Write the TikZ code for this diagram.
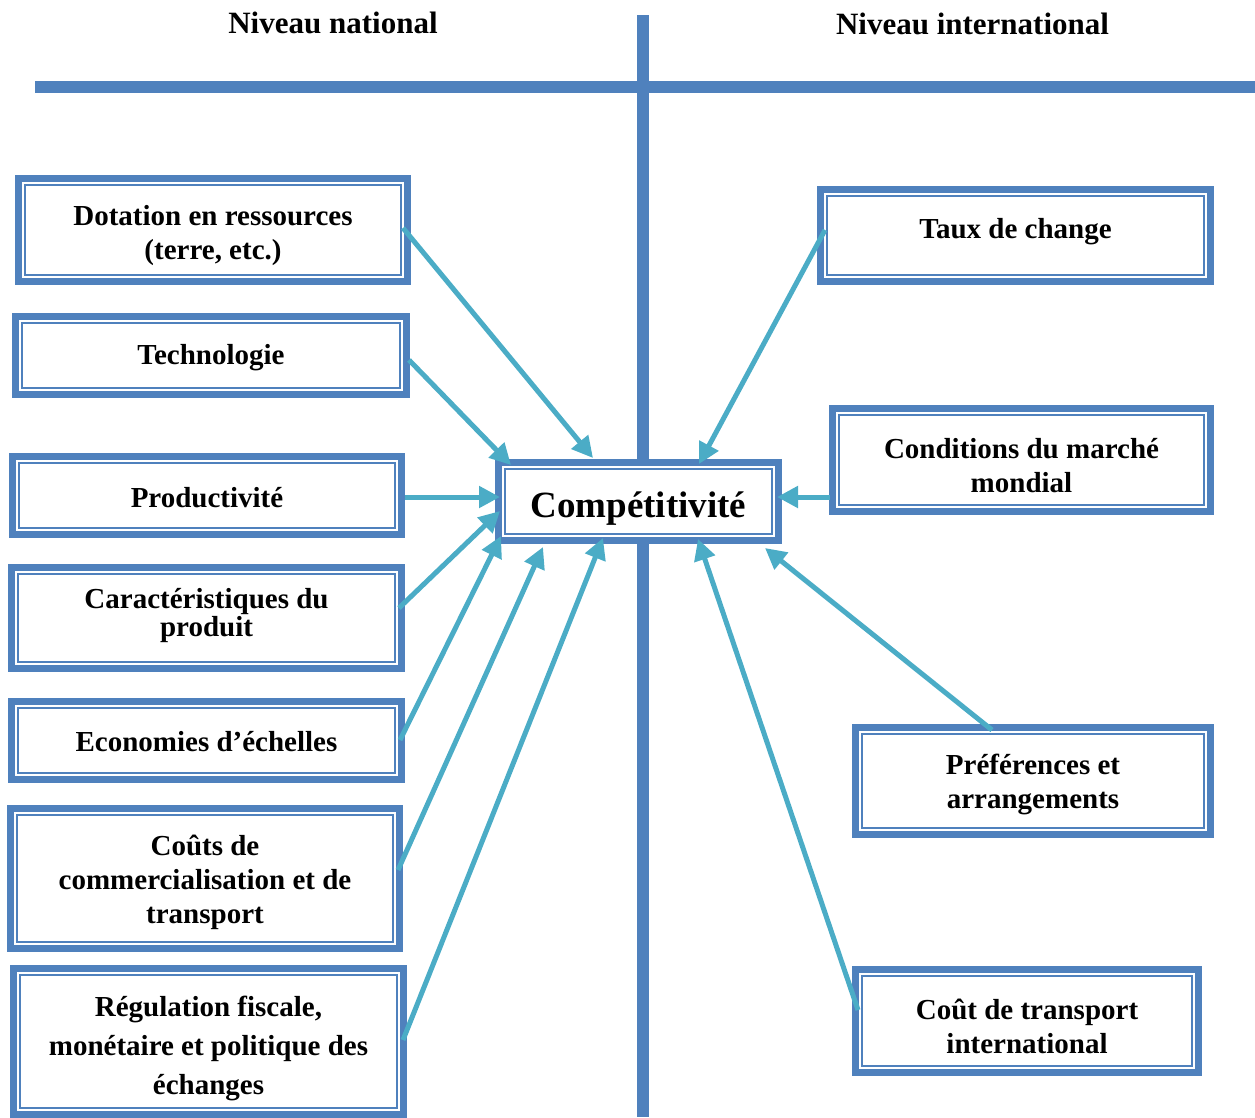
\documentclass[tikz,border=0pt]{standalone}
\usepackage{fontspec}
\setmainfont{Liberation Serif}
\usetikzlibrary{calc,arrows.meta}
\definecolor{bblue}{HTML}{4F81BD}
\definecolor{aqua}{HTML}{4BACC6}
\tikzset{
 outerbox/.style={draw=bblue, line width=7pt, fill=white, inner sep=0pt, outer sep=3.5pt},
 innerline/.style={draw=bblue, line width=1.6pt},
 boxtext/.style={font=\bfseries\fontsize{29}{34}\selectfont, align=center, inner sep=0pt, yshift=-3.5pt},
 arr/.style={draw=aqua, line width=5pt, -{Triangle[length=21pt,width=21pt]}},
 axisline/.style={draw=bblue, line width=12pt},
 titletext/.style={font=\bfseries\fontsize{31}{36}\selectfont, inner sep=0pt, yshift=-1pt}
}
\newcommand{\fbx}[5]{%
 \node[outerbox, minimum width={#4pt-7pt}, minimum height={#5pt-7pt}] (#1) at (#2,#3) {};
 \draw[innerline] ($(#1.north west)+(10,10)$) rectangle ($(#1.south east)+(-10,-10)$);
}
\begin{document}
\begin{tikzpicture}[x=1pt,y=-1pt]
\useasboundingbox (0,0) rectangle (1255,1117);
% axes
\coordinate (hl) at (35,87);
\coordinate (hr) at (1255,87);
\coordinate (vt) at (643,15);
\coordinate (vb) at (643,1117);
\draw[axisline] (hl) -- (hr);
\draw[axisline] (vt) -- (vb);
\node[titletext] (tn) at (333,22) {Niveau national};
\node[titletext] (ti) at (972.5,23) {Niveau international};
% left boxes
\fbx{dot}{213}{230}{396}{110}
\node[boxtext] (dotT) at (213,232) {Dotation en ressources\\(terre, etc.)};
\fbx{tech}{211}{355.5}{398}{85}
\node[boxtext] (techT) at (211,354) {Technologie};
\fbx{prod}{207}{495.5}{396}{85}
\node[boxtext] (prodT) at (207,494) {Productivité};
\fbx{car}{206.5}{618}{397}{108}
\node[boxtext, font=\bfseries\fontsize{29}{28}\selectfont] (carT) at (206.5,612) {Caractéristiques du\\produit};
\fbx{eco}{206.5}{740.5}{397}{85}
\node[boxtext] (ecoT) at (206.5,738) {Economies d’échelles};
\fbx{cout}{205}{878.5}{396}{147}
\node[boxtext] (coutT) at (205,879) {Coûts de\\commercialisation et de\\transport};
\fbx{reg}{208.5}{1041.5}{397}{153}
\node[boxtext, font=\bfseries\fontsize{29}{39}\selectfont] (regT) at (208.5,1045) {Régulation fiscale,\\monétaire et politique des\\échanges};
% right boxes
\fbx{taux}{1015.5}{235.5}{397}{99}
\node[boxtext] (tauxT) at (1015.5,228) {Taux de change};
\fbx{cond}{1021.5}{460}{385}{110}
\node[boxtext] (condT) at (1021.5,462) {Conditions du marché\\mondial};
\fbx{pref}{1033}{781}{362}{114}
\node[boxtext] (prefT) at (1033,781) {Préférences et\\arrangements};
\fbx{ctr}{1027}{1021}{350}{110}
\node[boxtext] (ctrT) at (1027,1022.5) {Coût de transport\\international};
% center
\fbx{comp}{638.5}{501.5}{287}{85}
\node[boxtext, font=\bfseries\fontsize{37}{40}\selectfont] (compT) at (638.5,505) {Compétitivité};
% arrows
\draw[arr] ($(dot.east)+(-8,-2)$) -- ($(comp.north)+(-45.5,-1)$);
\draw[arr] ($(tech.east)+(-1,4.5)$) -- ($(comp.north west)+(16,6)$);
\draw[arr] ($(prod.east)+(0,1.5)$) -- ($(comp.west)+(5,-4.5)$);
\draw[arr] ($(car.east)+(-6,-10)$) -- ($(comp.west)+(5,9.5)$);
\draw[arr] ($(eco.east)+(-5,-0.5)$) -- ($(comp.south west)+(6,-8)$);
\draw[arr] ($(cout.east)+(-5,-8.5)$) -- ($(comp.south west)+(48,3)$);
\draw[arr] ($(reg.east)+(-4,-1.5)$) -- ($(comp.south west)+(108,-6)$);
\draw[arr] ($(taux.west)+(8,-5.5)$) -- ($(comp.north)+(60.5,5)$);
\draw[arr] ($(cond.south west)+(1,-18)$) -- ($(comp.east)+(-5,-4.5)$);
\draw[arr] ($(pref.north)+(-41,6)$) -- ($(comp.south east)+(-17,4)$);
\draw[arr] ($(ctr.west)+(6,-11)$) -- ($(comp.south)+(59.5,-5)$);
\end{tikzpicture}
\end{document}
